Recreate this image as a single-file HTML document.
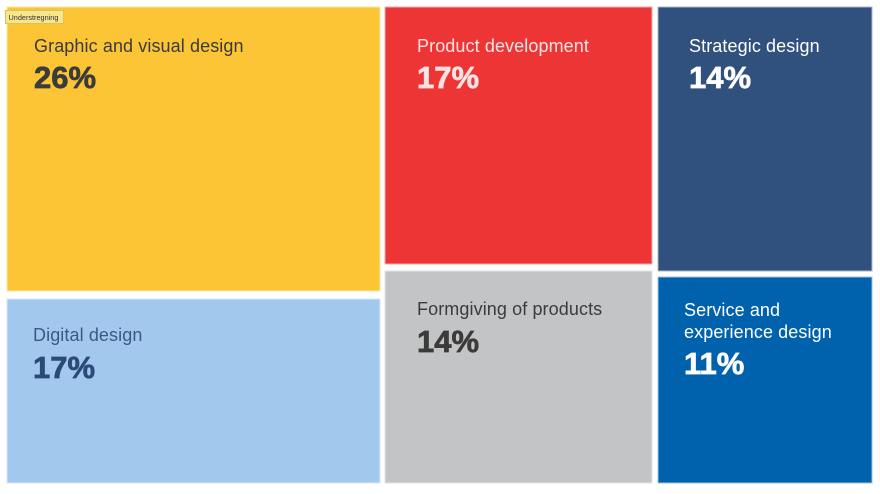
<!DOCTYPE html>
<html>
<head>
<meta charset="utf-8">
<style>
  html, body { margin: 0; padding: 0; background: #ffffff; }
  body { width: 880px; height: 494px; overflow: hidden; }
  svg { display: block; }
  text { font-family: "Liberation Sans", Arial, sans-serif; }
  .lab { font-size: 18px; letter-spacing: 0.1px; }
  .pct { font-size: 31px; font-weight: bold; stroke-width: 0.7px; }
</style>
</head>
<body>
<svg width="880" height="494" viewBox="0 0 880 494" xmlns="http://www.w3.org/2000/svg">
  <rect x="0" y="0" width="880" height="494" fill="#ffffff"/>

  <!-- tiles -->
  <rect x="7" y="7" width="373" height="284" fill="#FCC536" stroke="#fde7a6" stroke-width="1"/>
  <rect x="7" y="299" width="373" height="184" fill="#A3C8EE" stroke="#d4e6f8" stroke-width="1"/>
  <rect x="385" y="7" width="267" height="257" fill="#EE3536" stroke="#f7a9a9" stroke-width="1"/>
  <rect x="385" y="271" width="267" height="212" fill="#C3C4C6" stroke="#e2e3e4" stroke-width="1"/>
  <rect x="658" y="7" width="214" height="264" fill="#30507E" stroke="#a9b7cb" stroke-width="1"/>
  <rect x="658" y="277" width="214" height="206" fill="#0061AD" stroke="#9fc2e0" stroke-width="1"/>

  <!-- Graphic and visual design -->
  <text class="lab" x="34" y="52" fill="#3b3b3b">Graphic and visual design</text>
  <text class="pct" x="34" y="88" fill="#3b3b3b" stroke="#3b3b3b">26%</text>

  <!-- Product development -->
  <text class="lab" x="417" y="52" fill="#fde3e3">Product development</text>
  <text class="pct" x="417" y="88" fill="#fde3e3" stroke="#fde3e3">17%</text>

  <!-- Strategic design -->
  <text class="lab" x="689" y="52" fill="#ffffff">Strategic design</text>
  <text class="pct" x="689" y="88" fill="#ffffff" stroke="#ffffff">14%</text>

  <!-- Digital design -->
  <text class="lab" x="33" y="341" fill="#3a5a86">Digital design</text>
  <text class="pct" x="33" y="378" fill="#2b4a78" stroke="#2b4a78">17%</text>

  <!-- Formgiving of products -->
  <text class="lab" x="417" y="315" fill="#3b3b3b">Formgiving of products</text>
  <text class="pct" x="417" y="352" fill="#3b3b3b" stroke="#3b3b3b">14%</text>

  <!-- Service and experience design -->
  <text class="lab" x="684" y="316" fill="#ffffff">Service and</text>
  <text class="lab" x="684" y="338" fill="#ffffff">experience design</text>
  <text class="pct" x="684" y="374" fill="#ffffff" stroke="#ffffff">11%</text>

  <!-- tooltip -->
  <rect x="5.5" y="10.5" width="58" height="13" fill="#f8e58c" stroke="#d8c35e" stroke-width="1"/>
  <text x="8.5" y="19.8" font-size="7.3" fill="#333333">Understregning</text>
</svg>
</body>
</html>
